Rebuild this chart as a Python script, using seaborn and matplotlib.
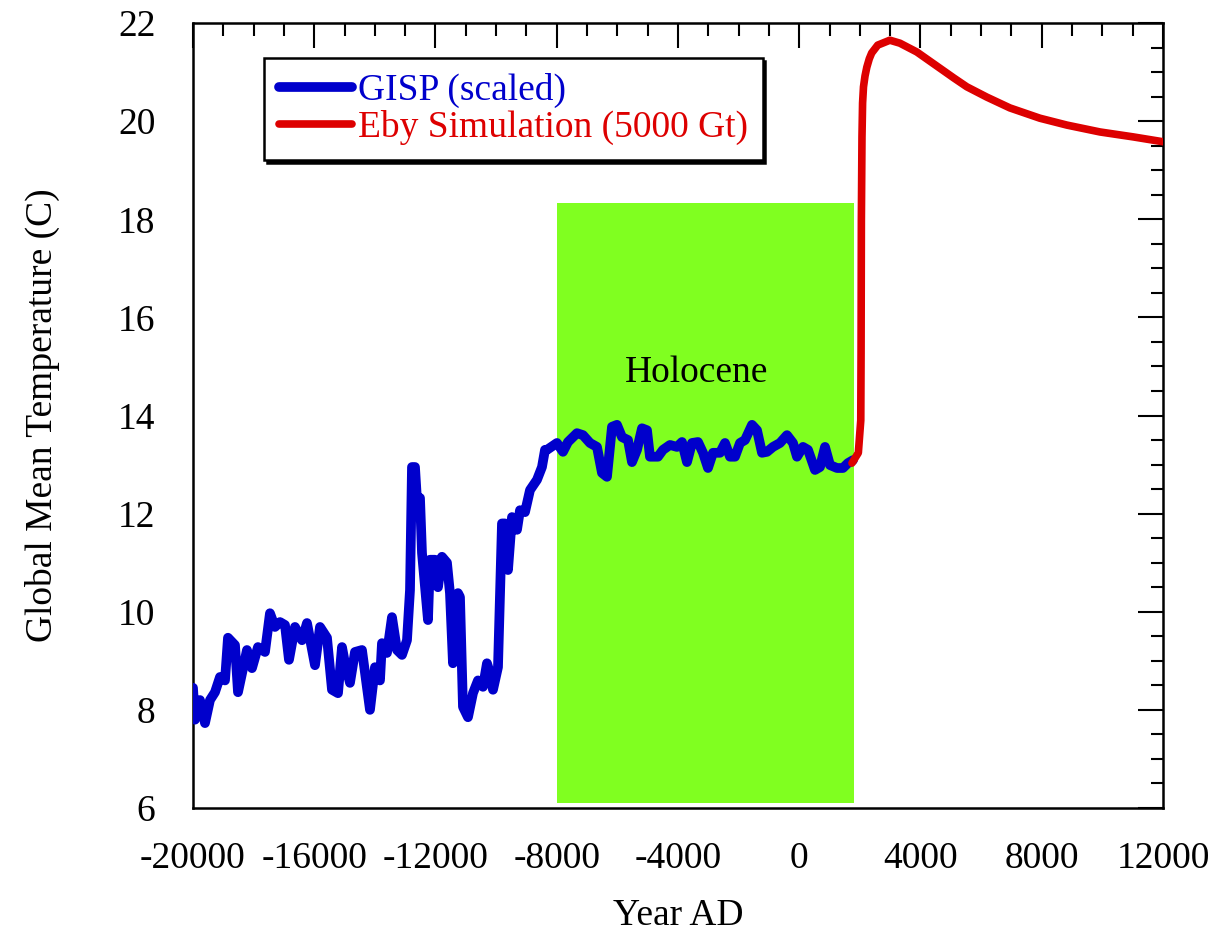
import numpy as np
import pandas as pd
import matplotlib
matplotlib.use('Agg')
import matplotlib.pyplot as plt
from matplotlib.ticker import MultipleLocator
import seaborn as sns

# GISP ice core record (scaled to global mean temperature)
gisp_year = [-20000, -19934, -19769, -19604, -19439, -19274, -19109, -18944, -18845, -18614,
             -18515, -18219, -18054, -17856, -17625, -17460, -17295, -17130, -16965, -16833,
             -16635, -16404, -16239, -15975, -15810, -15579, -15414, -15216, -15084, -14986,
             -14821, -14656, -14425, -14161, -13996, -13831, -13765, -13600, -13435, -13270,
             -13105, -12940, -12841, -12775, -12676, -12610, -12511, -12445, -12247, -12181,
             -12016, -11918, -11786, -11621, -11522, -11423, -11258, -11192, -11093, -10928,
             -10763, -10598, -10433, -10301, -10202, -10103, -9938, -9806, -9707, -9608,
             -9476, -9311, -9212, -9047, -8882, -8651, -8487, -8387, -8322, -7992,
             -7794, -7629, -7332, -7134, -6903, -6672, -6507, -6342, -6177, -6012,
             -5847, -5649, -5517, -5352, -5187, -5022, -4924, -4660, -4495, -4264,
             -4033, -3868, -3703, -3538, -3340, -3175, -3010, -2845, -2614, -2449,
             -2284, -2119, -1954, -1789, -1558, -1393, -1228, -1063, -866, -635,
             -404, -206, -74, 124, 289, 520, 685, 850, 1014, 1245,
             1443, 1608, 1773]
gisp_temp = [8.45, 7.80, 8.20, 7.73, 8.20, 8.36, 8.67, 8.60, 9.47, 9.32,
             8.36, 9.22, 8.85, 9.28, 9.18, 9.97, 9.69, 9.79, 9.73, 9.02,
             9.69, 9.42, 9.77, 8.91, 9.69, 9.47, 8.41, 8.34, 9.28, 8.95,
             8.55, 9.18, 9.22, 8.00, 8.87, 8.60, 9.36, 9.16, 9.89, 9.22,
             9.12, 9.42, 10.44, 12.95, 12.95, 12.28, 12.32, 11.20, 9.83, 11.06,
             11.06, 10.50, 11.12, 11.00, 10.38, 8.95, 10.38, 10.30, 8.06, 7.85,
             8.34, 8.60, 8.47, 8.95, 8.75, 8.41, 8.87, 11.80, 11.80, 10.85,
             11.93, 11.67, 12.07, 12.03, 12.48, 12.69, 12.95, 13.30, 13.30, 13.44,
             13.26, 13.46, 13.64, 13.60, 13.44, 13.36, 12.83, 12.75, 13.77, 13.81,
             13.56, 13.50, 13.05, 13.30, 13.74, 13.70, 13.16, 13.16, 13.30, 13.40,
             13.36, 13.46, 13.05, 13.44, 13.46, 13.24, 12.93, 13.24, 13.24, 13.44,
             13.16, 13.16, 13.44, 13.50, 13.81, 13.70, 13.24, 13.26, 13.36, 13.44,
             13.60, 13.44, 13.16, 13.36, 13.30, 12.89, 12.95, 13.36, 12.99, 12.93,
             12.93, 13.03, 13.09]

# Eby et al. simulation, 5000 Gt carbon release
eby_year = [1740, 1950, 2030, 2040, 2050, 2070, 2090, 2120, 2170, 2230, 2310, 2390, 2590,
            2990, 3320, 3880, 4640, 5100, 5530, 6190, 6950, 7940, 8830, 9920, 11010, 12000]
eby_temp = [13.03, 13.24, 13.90, 15.27, 17.98, 19.68, 20.37, 20.70, 20.92, 21.10, 21.27,
            21.39, 21.55, 21.65, 21.59, 21.41, 21.08, 20.88, 20.70, 20.49, 20.27, 20.06,
            19.92, 19.78, 19.68, 19.58]

holocene_start, holocene_end = -8000, 1800
holocene_bottom, holocene_top = 6.1, 18.33

gisp = pd.DataFrame({'year': gisp_year, 'temp': gisp_temp})
eby = pd.DataFrame({'year': eby_year, 'temp': eby_temp})

sns.set_style('white')
plt.rcParams['font.family'] = ['Liberation Serif', 'DejaVu Serif']
plt.rcParams['axes.unicode_minus'] = False
plt.rcParams['text.color'] = 'black'
plt.rcParams['axes.labelcolor'] = 'black'

fig = plt.figure(figsize=(12.16, 9.33), dpi=100)
ax = fig.add_axes([0.1587, 0.134, 0.7977, 0.8413])

ax.fill_between([holocene_start, holocene_end], holocene_bottom, holocene_top,
                color='#80FF20', linewidth=0, zorder=1)
ax.text((holocene_start + holocene_end) / 2 - 300, 14.87, 'Holocene',
        ha='center', va='center', fontsize=27, zorder=2)

sns.lineplot(data=gisp, x='year', y='temp', color='#0000CC', linewidth=7,
             estimator=None, sort=False, label='GISP (scaled)', ax=ax, zorder=3)
sns.lineplot(data=eby, x='year', y='temp', color='#DD0000', linewidth=5.5,
             estimator=None, sort=False, label='Eby Simulation (5000 Gt)', ax=ax, zorder=4)

ax.set_xlim(-20000, 12000)
ax.set_ylim(6, 22)
ax.xaxis.set_major_locator(MultipleLocator(4000))
ax.xaxis.set_minor_locator(MultipleLocator(1000))
ax.yaxis.set_major_locator(MultipleLocator(2))
ax.yaxis.set_minor_locator(MultipleLocator(0.5))
ax.tick_params(which='both', direction='in', top=True, right=True, labelsize=27, colors='black')
ax.tick_params(which='major', length=18, width=1.5)
ax.tick_params(which='minor', length=9, width=1.5)
ax.tick_params(axis='x', which='major', pad=24)
ax.tick_params(axis='y', which='major', pad=27)
for s in ax.spines.values():
    s.set_visible(True)
    s.set_color('black')
    s.set_linewidth(1.8)

ax.set_xlabel('Year AD', fontsize=27, labelpad=16)
ax.set_ylabel('Global Mean Temperature (C)', fontsize=27, labelpad=42)

leg = ax.legend(loc='upper left', bbox_to_anchor=(0.073, 0.955), borderaxespad=0,
                fontsize=27, frameon=True, fancybox=False, edgecolor='black',
                shadow={'color': 'black', 'alpha': 1}, framealpha=1,
                labelcolor='linecolor', handlelength=1.95, handletextpad=0.15,
                borderpad=0.4, labelspacing=0.05)
leg.get_frame().set_linewidth(1.8)
leg.set_zorder(5)

fig.savefig('out.png', dpi=100)
